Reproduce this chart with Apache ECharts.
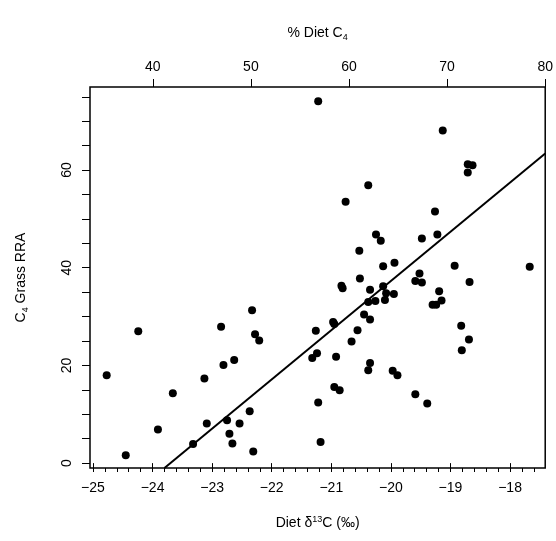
<!DOCTYPE html>
<html>
<head>
<meta charset="utf-8">
<script src="https://cdn.jsdelivr.net/npm/echarts@6/dist/echarts.min.js"></script>
<style>html,body{margin:0;padding:0;background:#fff}#chart{width:556px;height:541px}</style>
</head>
<body>
<div id="chart"></div>
<script>
// diet d13C (per mil) and C4 grass RRA
const d13c = [-24.77,-24.24,-24.45,-23.91,-23.66,-23.32,-23.09,-23.13,-22.85,-22.81,-22.63,-22.33,-22.28,-22.21,-22.75,-22.71,-22.66,-22.54,-22.37,-22.31,
  -21.26,-21.24,-21.32,-21.22,-21.18,-20.97,-20.95,-20.92,-20.95,-20.86,-20.83,-20.81,-20.52,-20.66,-20.56,-20.45,-20.35,-20.38,-20.35,-20.26,
  -20.13,-19.94,-20.13,-20.08,-20.10,-19.95,-20.35,-20.38,-19.97,-19.89,-19.59,-19.39,-19.59,-19.52,-19.48,-19.19,-19.15,-19.30,-19.24,-18.93,
  -18.68,-18.82,-18.69,-18.81,-17.67,-21.22,-19.13,-18.71,-18.63,-18.71,-20.38,-20.76,-19.26,-20.25,-20.17,-19.48,-19.22,-20.53]
const rra = [18.0,27.0,1.6,6.9,14.3,3.9,8.1,17.3,27.9,20.1,21.1,31.3,26.4,25.1,8.8,6.0,4.0,8.1,10.6,2.4,
  27.1,22.5,21.5,12.4,4.3,28.9,28.5,21.8,15.6,14.9,36.3,35.8,37.8,24.9,27.2,30.4,29.4,33.0,35.5,33.2,
  40.3,41.0,36.2,34.8,33.4,34.6,20.5,19.0,18.9,18.0,14.1,12.2,37.3,38.8,37.0,35.2,33.3,32.4,32.4,40.4,
  37.1,28.1,25.3,23.1,40.2,74.1,68.1,61.2,61.0,59.5,56.9,53.5,51.5,46.8,45.5,46.0,46.8,43.5]
const fitLine = [[-23.80, -1], [-17.41, 63.4]]
const xTicks = [-25, -24, -23, -22, -21, -20, -19, -18]
const yTicks = [0, 20, 40, 60]
const topTicks = [40, 50, 60, 70, 80]

let minorX = []
for (let i = 0; i <= 38; i++) minorX.push(-25 + i * 0.2)
let yMinor = []
for (let v = 0; v <= 75; v += 5) yMinor.push(v)

const font = '"Liberation Sans", Arial, sans-serif'
const black = '#000'
let pts = d13c.map((x, i) => [x, rra[i]])

let myChart = echarts.init(document.getElementById('chart'))
let option = {
  animation: false,
  grid: { left: 90, right: 9, top: 87, bottom: 73, show: true, borderColor: black, borderWidth: 1.5 },
  xAxis: [{
    type: 'value', min: -25.05, max: -17.41, position: 'bottom',
    axisLine: { show: false }, splitLine: { show: false },
    axisTick: { show: true, customValues: xTicks, length: 8, lineStyle: { color: black } },
    axisLabel: { customValues: xTicks, color: black, fontFamily: font, fontSize: 14, margin: 13,
      formatter: v => String(v).replace('-', '\u2212') },
    name: '{a|Diet δ}{s|13}{a|C (‰)}', nameLocation: 'middle', nameGap: 47,
    nameTextStyle: { rich: { a: { fontSize: 14, fontFamily: font, color: black }, s: { fontSize: 9, fontFamily: font, color: black, verticalAlign: 'top', padding: [0, 0, 8, 0] } } }
  }, {
    type: 'value', min: -25.05, max: -17.41, position: 'bottom',
    axisLine: { show: false }, splitLine: { show: false },
    axisTick: { show: true, customValues: minorX, length: 4, lineStyle: { color: black } },
    axisLabel: { show: false }
  }, {
    type: 'value', min: 33.6, max: 80, position: 'top',
    axisLine: { show: false }, splitLine: { show: false },
    axisTick: { show: true, customValues: topTicks, length: 8, lineStyle: { color: black } },
    axisLabel: { customValues: topTicks, color: black, fontFamily: font, fontSize: 14, margin: 13 },
    name: '{a|% Diet C}{s|4}', nameLocation: 'middle', nameGap: 45,
    nameTextStyle: { rich: { a: { fontSize: 14, fontFamily: font, color: black }, s: { fontSize: 9, fontFamily: font, color: black, verticalAlign: 'bottom', padding: [8, 0, 0, 0] } } }
  }],
  yAxis: {
    type: 'value', min: -1, max: 77,
    axisLine: { show: false }, splitLine: { show: false },
    axisTick: { show: true, customValues: yMinor, length: 8, lineStyle: { color: black } },
    axisLabel: { customValues: yTicks, color: black, fontFamily: font, fontSize: 14, rotate: 90, margin: 16 },
    name: '{a|C}{s|4}{a| Grass RRA}', nameLocation: 'middle', nameGap: 60, nameRotate: 90,
    nameTextStyle: { rich: { a: { fontSize: 14, fontFamily: font, color: black }, s: { fontSize: 9, fontFamily: font, color: black, verticalAlign: 'bottom', padding: [8, 0, 0, 0] } } }
  },
  series: [{
    type: 'scatter', data: pts, symbolSize: 8, itemStyle: { color: black, opacity: 1 }
  }, {
    type: 'line', data: fitLine, symbol: 'none', clip: true,
    lineStyle: { color: black, width: 2 }
  }]
}
myChart.setOption(option)
</script>
</body>
</html>
